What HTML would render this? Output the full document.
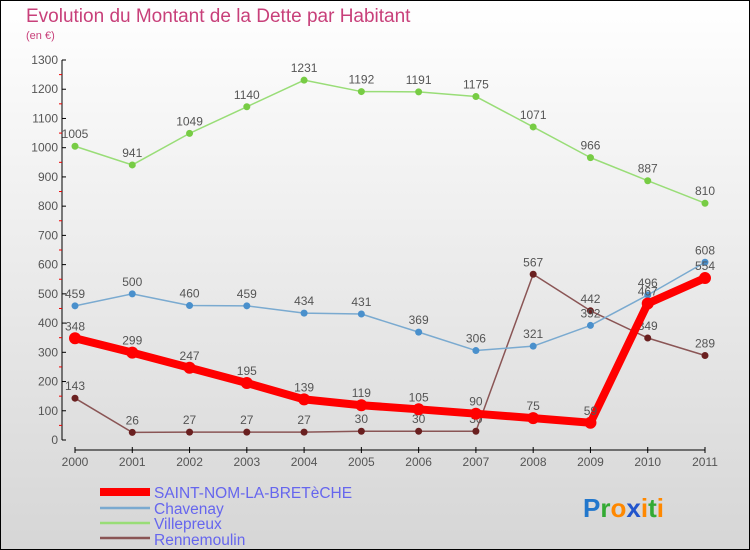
<!DOCTYPE html>
<html><head><meta charset="utf-8"><style>
body{margin:0}
#c{width:750px;height:550px;position:relative;overflow:hidden;font-family:"Liberation Sans",sans-serif}
</style></head><body>
<div id="c">
<svg id="s" width="750" height="550" xmlns="http://www.w3.org/2000/svg">
<defs><linearGradient id="bg" x1="0" y1="0" x2="0" y2="1"><stop offset="0" stop-color="#ffffff"/><stop offset="1" stop-color="#d6d6d6"/></linearGradient></defs>
<rect x="0.5" y="0.5" width="749" height="549" fill="url(#bg)" stroke="#000"/>
<text x="26" y="22" font-size="19" fill="#c8407a" font-weight="300">Evolution du Montant de la Dette par Habitant</text>
<text x="26" y="39" font-size="11" fill="#c8407a">(en €)</text>
<g id="axes"></g><g id="series"></g>
<g>
<line x1="100" y1="492" x2="150" y2="492" stroke="#f00" stroke-width="8"/>
<text x="154" y="498" font-size="15.5" fill="#6666ee">SAINT-NOM-LA-BRETèCHE</text>
<line x1="100" y1="508" x2="150" y2="508" stroke="#7aaad0" stroke-width="2.5"/>
<text x="154" y="514" font-size="15.5" fill="#6666ee">Chavenay</text>
<line x1="100" y1="523" x2="150" y2="523" stroke="#99dd77" stroke-width="2.5"/>
<text x="154" y="529" font-size="15.5" fill="#6666ee">Villepreux</text>
<line x1="100" y1="538" x2="150" y2="538" stroke="#8a5555" stroke-width="2.5"/>
<text x="154" y="545" font-size="15.5" fill="#6666ee">Rennemoulin</text>
</g>
<text x="583" y="517" font-size="26" font-weight="bold"><tspan fill="#2277cc">P</tspan><tspan fill="#33aa33">r</tspan><tspan fill="#ff8800">o</tspan><tspan fill="#2255cc">x</tspan><tspan fill="#ff8800">i</tspan><tspan fill="#33aa33">t</tspan><tspan fill="#ff8800">i</tspan></text>
</svg></div>
<script>
const years=["2000","2001","2002","2003","2004","2005","2006","2007","2008","2009","2010","2011"];
const yTicks=[0,100,200,300,400,500,600,700,800,900,1000,1100,1200,1300];
const saintNom=[348,299,247,195,139,119,105,90,75,59,467,554];
const chavenay=[459,500,460,459,434,431,369,306,321,392,496,608];
const villepreux=[1005,941,1049,1140,1231,1192,1191,1175,1071,966,887,810];
const rennemoulin=[143,26,27,27,27,30,30,30,567,442,349,289];
const NS="http://www.w3.org/2000/svg";
const X=i=>75+i*(630/11);
const Y=v=>440-v*(380/1300);
function mk(t,a,p){const e=document.createElementNS(NS,t);for(const k in a)e.setAttribute(k,a[k]);p.appendChild(e);return e;}
const ax=document.getElementById('axes');
let l=mk('line',{x1:62,y1:60,x2:62,y2:440,stroke:'#000'},ax);


yTicks.forEach((v,k)=>{
 mk('line',{x1:62,y1:Y(v),x2:66,y2:Y(v),stroke:'#000'},ax);
 if(k<yTicks.length-1) mk('line',{x1:59,y1:Y(v+50),x2:62,y2:Y(v+50),stroke:'#e00'},ax);
 const t=mk('text',{x:58,y:Y(v)+4,'font-size':12,'text-anchor':'end',fill:'#555'},ax);t.textContent=v;
 
 
});
l=mk('line',{x1:75,y1:450,x2:705,y2:450,stroke:'#000'},ax);


years.forEach((y,i)=>{
 mk('line',{x1:X(i),y1:447,x2:X(i),y2:453,stroke:'#000'},ax);
 const t=mk('text',{x:X(i),y:466,'font-size':12,'text-anchor':'middle',fill:'#555'},ax);t.textContent=y;
 
 
});
const sg=document.getElementById('series');
function series(name,data,color,w,r,dot){
 const g=mk('g',{},sg);
 
 
 const p=mk('polyline',{points:data.map((v,i)=>X(i)+','+Y(v)).join(' '),fill:'none',stroke:color,'stroke-width':w,'stroke-linejoin':'round'},g);
 
 
 data.forEach((v,i)=>{
  const c=mk('circle',{cx:X(i),cy:Y(v),r:r,fill:dot},g);
  
  
  const t=mk('text',{x:X(i),y:Y(v)-8,'font-size':12,'text-anchor':'middle',fill:'#555'},g);t.textContent=v;
  
  
 });
}
series('rennemoulin',rennemoulin,'#8a5555',1.5,3.5,'#6a2020');
series('villepreux',villepreux,'#99dd77',1.5,3.5,'#77cc44');
series('chavenay',chavenay,'#7aaad0',1.5,3.5,'#4a90cc');
series('saint-nom',saintNom,'#f00',8,6,'#f00');
</script>
</body></html>
